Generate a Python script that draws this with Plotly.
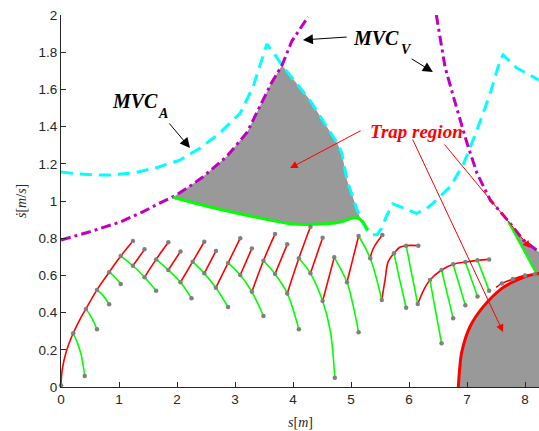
import plotly.graph_objects as go

# ---------------- data ----------------
# MVC_V (magenta dash-dot), two branches
mvcv_left_s = [0.0, 0.5, 1.02, 1.40, 1.71, 1.98, 2.20, 2.45, 2.86, 3.21, 3.43, 3.62, 3.81, 3.90, 3.98, 4.26]
mvcv_left_sd = [0.79, 0.835, 0.887, 0.94, 0.99, 1.03, 1.075, 1.13, 1.24, 1.37, 1.51, 1.63, 1.73, 1.80, 1.86, 1.99]
mvcv_right_s = [6.47, 6.62, 6.83, 7.00, 7.17, 7.40, 7.69, 7.97, 8.24, 8.35]
mvcv_right_sd = [2.0, 1.72, 1.49, 1.31, 1.15, 1.005, 0.90, 0.79, 0.726, 0.70]

# MVC_A (cyan dashed)
mvca_s = [0.0, 0.30, 0.57, 0.84, 1.24, 1.66, 2.05, 2.40, 2.74, 3.09, 3.31, 3.48, 3.55, 3.69, 3.81,
          4.29, 4.76, 4.84, 4.93, 5.10, 5.27, 5.36, 5.45, 5.52, 5.62, 5.72, 5.80, 5.90, 6.13, 6.30,
          6.42, 6.71, 6.94, 7.17, 7.40, 7.57, 7.62, 7.86, 8.24]
mvca_sd = [1.156, 1.145, 1.14, 1.14, 1.15, 1.18, 1.22, 1.285, 1.366, 1.473, 1.613, 1.774, 1.844, 1.785, 1.73,
           1.543, 1.312, 1.258, 1.113, 0.955, 0.844, 0.818, 0.82, 0.85, 0.925, 0.985, 0.975, 0.96, 0.934, 0.96,
           0.99, 1.077, 1.20, 1.38, 1.58, 1.758, 1.785, 1.715, 1.65]

# Trap region 1 (upper gray area)
trap1_s = [1.93, 1.98, 2.20, 2.45, 2.86, 3.21, 3.43, 3.62, 3.81, 4.29, 4.76, 4.84, 4.93, 5.10, 5.16,
           5.03, 4.81, 4.47, 4.00, 3.43, 2.57, 1.93]
trap1_sd = [1.02, 1.03, 1.075, 1.13, 1.24, 1.37, 1.51, 1.63, 1.73, 1.543, 1.312, 1.258, 1.113, 0.955, 0.905,
            0.909, 0.887, 0.876, 0.876, 0.909, 0.968, 1.02]
# lower boundary of trap region 1 (thick green)
trap1_edge_s = [1.93, 2.57, 3.43, 4.00, 4.47, 4.81, 5.03, 5.14, 5.29]
trap1_edge_sd = [1.02, 0.968, 0.909, 0.876, 0.876, 0.887, 0.909, 0.905, 0.844]

# Trap region 2 (lower right gray area)
trap2_s = [6.85, 6.87, 6.91, 7.05, 7.28, 7.60, 7.80, 8.03, 8.20, 7.71, 7.97, 8.24, 8.35, 8.35, 6.85]
trap2_sd = [0.0, 0.09, 0.19, 0.324, 0.432, 0.53, 0.566, 0.597, 0.608, 0.889, 0.79, 0.726, 0.70, 0.0, 0.0]
arc_s = [6.85, 6.87, 6.91, 7.05, 7.28, 7.60, 7.80, 8.03, 8.20, 8.30]
arc_sd = [0.0, 0.09, 0.19, 0.324, 0.432, 0.53, 0.566, 0.597, 0.608, 0.612]
trap2_edge_s = [7.71, 8.20]
trap2_edge_sd = [0.889, 0.608]

# main accelerating curve from the origin
red_main_s = [0.0, 0.01, 0.03, 0.07, 0.13, 0.21, 0.32, 0.43, 0.62, 0.83, 1.03, 1.24]
red_main_sd = [0.01, 0.063, 0.109, 0.167, 0.227, 0.289, 0.36, 0.42, 0.522, 0.617, 0.704, 0.785]

# other accelerating (red) trajectories
red_paths = [
    ([1.24, 1.44], [0.652, 0.74]),
    ([1.44, 1.64, 1.85], [0.59, 0.686, 0.778]),
    ([1.85, 2.06], [0.629, 0.729]),
    ([2.06, 2.27, 2.47], [0.563, 0.674, 0.781]),
    ([2.47, 2.67], [0.611, 0.731]),
    ([2.67, 2.88, 3.09], [0.534, 0.667, 0.80]),
    ([3.09, 3.29], [0.602, 0.745]),
    ([3.29, 3.49, 3.69], [0.512, 0.679, 0.823]),
    ([3.69, 3.90], [0.608, 0.767]),
    ([3.90, 4.10, 4.30], [0.503, 0.692, 0.862]),
    ([4.30, 4.51], [0.611, 0.803]),
    ([4.51, 4.71], [0.462, 0.697]),
    ([4.93, 5.13], [0.563, 0.812]),
    ([5.33, 5.36, 5.41, 5.54], [0.692, 0.727, 0.76, 0.817]),
    ([5.53, 5.59, 5.64, 5.74, 5.84, 5.95, 6.16], [0.468, 0.584, 0.674, 0.719, 0.751, 0.76, 0.76]),
    ([6.15, 6.25, 6.36, 6.56, 6.76, 6.97, 7.18, 7.38], [0.446, 0.52, 0.575, 0.629, 0.66, 0.672, 0.681, 0.686]),
    ([7.50, 7.60, 7.79, 8.00, 8.17], [0.535, 0.557, 0.58, 0.60, 0.606]),
]

# decelerating (green) trajectories
green_paths = [
    ([0.21, 0.28, 0.35, 0.41], [0.289, 0.24, 0.17, 0.059]),
    ([0.43, 0.53, 0.62], [0.42, 0.372, 0.31]),
    ([0.62, 0.73, 0.83], [0.522, 0.49, 0.445]),
    ([0.83, 0.93, 1.03], [0.617, 0.59, 0.554]),
    ([1.03, 1.24, 1.44, 1.64], [0.704, 0.652, 0.59, 0.518]),
    ([1.64, 1.85, 2.06, 2.25], [0.686, 0.629, 0.563, 0.477]),
    ([2.27, 2.47, 2.67, 2.88], [0.674, 0.611, 0.534, 0.43]),
    ([2.88, 3.09, 3.29, 3.49], [0.667, 0.602, 0.512, 0.382]),
    ([3.49, 3.69, 3.90, 4.10], [0.679, 0.608, 0.503, 0.31]),
    ([4.10, 4.30, 4.51, 4.64, 4.72], [0.692, 0.611, 0.462, 0.306, 0.05]),
    ([4.71, 4.93, 5.04, 5.13], [0.697, 0.563, 0.432, 0.294]),
    ([5.13, 5.33, 5.53], [0.812, 0.692, 0.468]),
    ([5.74, 5.84, 5.95], [0.719, 0.575, 0.426]),
    ([5.95, 6.05, 6.15], [0.76, 0.602, 0.446]),
    ([6.36, 6.56], [0.575, 0.235]),
    ([6.56, 6.76], [0.629, 0.369]),
    ([6.76, 6.97], [0.66, 0.44]),
    ([6.97, 7.18], [0.672, 0.486]),
    ([7.18, 7.38], [0.681, 0.518]),
]

# gray switching-point markers
dots_s = [0.0, 0.21, 0.41, 0.43, 0.62, 0.62, 0.83, 0.83, 1.03, 1.03, 1.24, 1.24, 1.44, 1.44, 1.64, 1.64,
          1.85, 1.85, 2.06, 2.06, 2.25, 2.27, 2.47, 2.47, 2.67, 2.67, 2.88, 2.88, 3.09, 3.09, 3.29, 3.29,
          3.49, 3.49, 3.69, 3.69, 3.90, 3.90, 4.10, 4.10, 4.30, 4.30, 4.51, 4.51, 4.72, 4.71, 4.93, 5.13,
          5.13, 5.33, 5.54, 5.53, 5.74, 5.95, 6.16, 5.95, 6.15, 6.36, 6.56, 6.76, 6.97, 7.18, 7.38, 6.56,
          6.76, 6.97, 7.18, 7.38, 7.60, 7.79, 8.00, 8.17]
dots_sd = [0.01, 0.289, 0.059, 0.42, 0.31, 0.522, 0.445, 0.617, 0.554, 0.704, 0.785, 0.652, 0.74, 0.59, 0.518, 0.686,
           0.778, 0.629, 0.729, 0.563, 0.477, 0.674, 0.781, 0.611, 0.731, 0.534, 0.43, 0.667, 0.80, 0.602, 0.745, 0.512,
           0.382, 0.679, 0.823, 0.608, 0.767, 0.503, 0.31, 0.692, 0.862, 0.611, 0.803, 0.462, 0.05, 0.697, 0.563, 0.294,
           0.812, 0.692, 0.817, 0.468, 0.719, 0.76, 0.76, 0.426, 0.446, 0.575, 0.629, 0.66, 0.672, 0.681, 0.686, 0.235,
           0.369, 0.44, 0.486, 0.518, 0.557, 0.58, 0.60, 0.606]

x_ticks = [0, 1, 2, 3, 4, 5, 6, 7, 8]
y_ticks = [0, 0.2, 0.4, 0.6, 0.8, 1.0, 1.2, 1.4, 1.6, 1.8, 2.0]
y_ticktext = ["0", "0.2", "0.4", "0.6", "0.8", "1", "1.2", "1.4", "1.6", "1.8", "2"]

# ---------------- styles ----------------
RED = "#FF0000"
GREEN = "#00FF00"
CYAN = "#00FFFF"
MAGENTA = "#BF00BF"
GRAY_FILL = "#999999"
DOT = "#808080"
SERIF = "Liberation Serif, Times New Roman, serif"
SANS = "Liberation Sans, Arial, Helvetica, sans-serif"

fig = go.Figure()

# gray trap regions
fig.add_trace(go.Scatter(x=trap1_s, y=trap1_sd, mode="lines", fill="toself", fillcolor=GRAY_FILL,
                         line=dict(width=0, color=GRAY_FILL), hoverinfo="skip", showlegend=False))
fig.add_trace(go.Scatter(x=trap2_s, y=trap2_sd, mode="lines", fill="toself", fillcolor=GRAY_FILL,
                         line=dict(width=0, color=GRAY_FILL), hoverinfo="skip", showlegend=False))

# MVC curves
fig.add_trace(go.Scatter(x=mvca_s, y=mvca_sd, mode="lines",
                         line=dict(color=CYAN, width=3, dash="12px,7px"), showlegend=False))
fig.add_trace(go.Scatter(x=mvcv_left_s, y=mvcv_left_sd, mode="lines",
                         line=dict(color=MAGENTA, width=3, dash="10px,4px,3px,4px"), showlegend=False))
fig.add_trace(go.Scatter(x=mvcv_right_s, y=mvcv_right_sd, mode="lines",
                         line=dict(color=MAGENTA, width=3, dash="10px,4px,3px,4px"), showlegend=False))

# trajectories
fig.add_trace(go.Scatter(x=red_main_s, y=red_main_sd, mode="lines",
                         line=dict(color=RED, width=1.6, shape="spline"), showlegend=False))
for ps, psd in red_paths:
    fig.add_trace(go.Scatter(x=ps, y=psd, mode="lines",
                             line=dict(color=RED, width=1.6, shape="spline"), showlegend=False))
for ps, psd in green_paths:
    fig.add_trace(go.Scatter(x=ps, y=psd, mode="lines",
                             line=dict(color=GREEN, width=1.6, shape="spline"), showlegend=False))

# boundaries of trap regions
fig.add_trace(go.Scatter(x=trap1_edge_s, y=trap1_edge_sd, mode="lines",
                         line=dict(color=GREEN, width=3, shape="spline"), showlegend=False))
fig.add_trace(go.Scatter(x=trap2_edge_s, y=trap2_edge_sd, mode="lines",
                         line=dict(color=GREEN, width=2.2), showlegend=False))
fig.add_trace(go.Scatter(x=arc_s, y=arc_sd, mode="lines",
                         line=dict(color=RED, width=3, shape="spline"), showlegend=False))

# markers
fig.add_trace(go.Scatter(x=dots_s, y=dots_sd, mode="markers",
                         marker=dict(color=DOT, size=4.5), showlegend=False, cliponaxis=False))

# ---------------- annotations ----------------
def label(x, y, text, size, color="black"):
    fig.add_annotation(x=x, y=y, xref="x", yref="y", text=text, showarrow=False,
                       font=dict(family=SERIF, size=size, color=color),
                       xanchor="center", yanchor="middle")

def arrow(x0, y0, x1, y1, color, size):
    fig.add_annotation(x=x1, y=y1, ax=x0, ay=y0, xref="x", yref="y", axref="x", ayref="y",
                       text="", showarrow=True, arrowhead=2, arrowsize=size, arrowwidth=1,
                       arrowcolor=color)

label(1.267, 1.540, "<b><i>MVC</i></b>", 20)
label(1.75, 1.473, "<b><i>A</i></b>", 14)
label(5.422, 1.879, "<b><i>MVC</i></b>", 20)
label(5.948, 1.812, "<b><i>V</i></b>", 14)
label(6.129, 1.374, "<b><i>Trap region</i></b>", 19, RED)

arrow(1.845, 1.425, 2.224, 1.285, "black", 2)
arrow(4.95, 1.882, 4.17, 1.866, "black", 2)
arrow(6.02, 1.769, 6.41, 1.694, "black", 2)
arrow(5.19, 1.382, 3.95, 1.177, RED, 1.5)
arrow(6.05, 1.339, 7.62, 0.296, RED, 1.5)
arrow(6.59, 1.312, 8.09, 0.747, RED, 1.5)

# axis labels
fig.add_annotation(x=0.5, y=0, xref="paper", yref="paper", yshift=-26, xanchor="center", yanchor="top",
                   text="<i>s</i>[<i>m</i>]", showarrow=False,
                   font=dict(family=SERIF, size=14, color="#262626"))
fig.add_annotation(x=0, y=0.5, xref="paper", yref="paper", xshift=-40, xanchor="center", yanchor="middle",
                   text="<i>ṡ</i>[<i>m</i>/<i>s</i>]", textangle=-90, showarrow=False,
                   font=dict(family=SERIF, size=14, color="#262626"))

fig.update_layout(
    width=539, height=431,
    margin=dict(l=61, r=0, t=15, b=44),
    paper_bgcolor="white", plot_bgcolor="white",
    showlegend=False,
    xaxis=dict(range=[0, 8.24], tickvals=x_ticks, ticks="inside", ticklen=5, tickcolor="#262626",
               showline=True, linecolor="#262626", linewidth=1, showgrid=False, zeroline=False,
               tickfont=dict(family=SANS, size=13.5, color="#262626")),
    yaxis=dict(range=[0, 2], tickvals=y_ticks, ticktext=y_ticktext, ticks="inside", ticklen=5,
               tickcolor="#262626", showline=True, linecolor="#262626", linewidth=1, showgrid=False,
               zeroline=False, tickfont=dict(family=SANS, size=13.5, color="#262626")),
)

fig.write_html("out.html", config={"displayModeBar": False},
               post_script="document.body.style.margin='0px';document.body.style.padding='0px';")
